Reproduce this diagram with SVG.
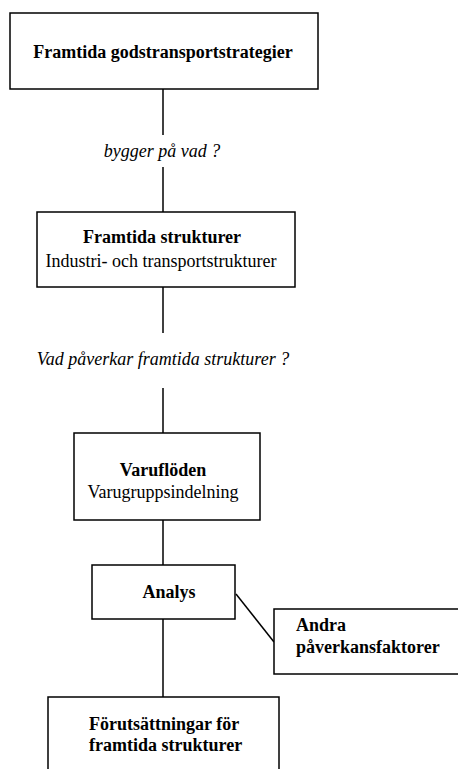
<svg xmlns="http://www.w3.org/2000/svg" width="458" height="769" viewBox="0 0 458 769">
  <style>
    .box { fill: #fff; stroke: #000; stroke-width: 1.5; }
    .link { stroke: #000; stroke-width: 1.5; fill: none; }
    text { font-family: "Liberation Serif", "Times New Roman", serif; font-size: 18px; fill: #000; }
    .b { font-weight: bold; }
    .i { font-style: italic; }
    .c { text-anchor: middle; }
  </style>
  <rect width="458" height="769" fill="#fff"/>
  <g id="connectors">
    <line class="link" x1="163" y1="89" x2="163" y2="135"/>
    <line class="link" x1="163" y1="167" x2="163" y2="212"/>
    <line class="link" x1="163" y1="287" x2="163" y2="333"/>
    <line class="link" x1="163" y1="388" x2="163" y2="433"/>
    <line class="link" x1="163" y1="520" x2="163" y2="565"/>
    <line class="link" x1="163" y1="619" x2="163" y2="697"/>
    <line class="link" x1="236" y1="594" x2="274" y2="642"/>
  </g>
  <g id="label-bygger">
    <text class="i c" x="162" y="157">bygger på vad ?</text>
  </g>
  <g id="label-paverkar">
    <text class="i c" x="163" y="365">Vad påverkar framtida strukturer ?</text>
  </g>
  <g id="node-strategier">
    <rect class="box" x="10" y="13" width="308" height="76"/>
    <text class="b c" x="163" y="58">Framtida godstransportstrategier</text>
  </g>
  <g id="node-strukturer">
    <rect class="box" x="37" y="212" width="258" height="75"/>
    <text class="b c" x="162" y="243">Framtida strukturer</text>
    <text class="c" x="161" y="267">Industri- och transportstrukturer</text>
  </g>
  <g id="node-varufloden">
    <rect class="box" x="74" y="433" width="186" height="87"/>
    <text class="b c" x="163" y="476">Varuflöden</text>
    <text class="c" x="163" y="498">Varugruppsindelning</text>
  </g>
  <g id="node-analys">
    <rect class="box" x="92" y="565" width="143" height="54"/>
    <text class="b c" x="169" y="598">Analys</text>
  </g>
  <g id="node-andra">
    <rect class="box" x="274" y="609" width="190" height="65"/>
    <text class="b" x="296" y="631">Andra</text>
    <text class="b" x="296" y="653">påverkansfaktorer</text>
  </g>
  <g id="node-forutsattningar">
    <rect class="box" x="48" y="697" width="231" height="100"/>
    <text class="b" x="89" y="730">Förutsättningar för</text>
    <text class="b" x="89" y="751">framtida strukturer</text>
  </g>
</svg>
